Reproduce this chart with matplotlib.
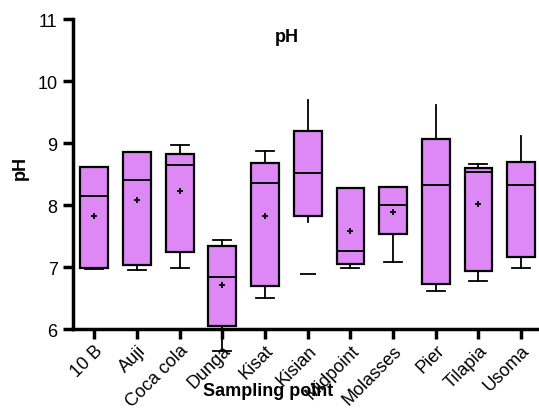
import matplotlib.pyplot as plt
import numpy as np

plt.rcParams['font.family'] = ['Liberation Sans', 'DejaVu Sans']

# sampling points and box statistics
sites = ['10 B', 'Auji', 'Coca cola', 'Dunga', 'Kisat', 'Kisian',
         'Midpoint', 'Molasses', 'Pier', 'Tilapia', 'Usoma']
whis_lo = [6.97, 6.95, 6.99, 5.65, 6.50, 7.72, 6.98, 7.08, 6.61, 6.77, 6.99]
q1 = [6.98, 7.03, 7.24, 6.05, 6.70, 7.82, 7.05, 7.53, 6.73, 6.94, 7.16]
med = [8.15, 8.40, 8.65, 6.84, 8.35, 8.52, 7.26, 8.00, 8.32, 8.53, 8.32]
q3 = [8.62, 8.85, 8.82, 7.34, 8.68, 9.19, 8.27, 8.29, 9.06, 8.60, 8.69]
whis_hi = [8.62, 8.85, 8.97, 7.44, 8.87, 9.69, 8.27, 8.29, 9.61, 8.66, 9.11]
means = [7.82, 8.08, 8.22, 6.71, 7.82, np.nan, 7.58, 7.89, np.nan, 8.02, np.nan]
outliers = {'Kisian': [6.89]}

fill = '#DE88F6'

fig = plt.figure(figsize=(5.39, 4.10), dpi=100)
ax = fig.add_axes([73/539, 1-330/410, 466/539, 310/410])

stats = []
for i, s in enumerate(sites):
    stats.append(dict(label=s, whislo=whis_lo[i], q1=q1[i], med=med[i],
                      q3=q3[i], whishi=whis_hi[i], fliers=[]))

pos = np.arange(1, len(sites) + 1)
bp = ax.bxp(stats, positions=pos, widths=0.65, patch_artist=True,
            showfliers=False, capwidths=0.42,
            boxprops=dict(facecolor=fill, edgecolor='black', linewidth=1.6),
            medianprops=dict(color='black', linewidth=1.4),
            whiskerprops=dict(color='black', linewidth=1.3),
            capprops=dict(color='black', linewidth=1.3))

# upper caps missing for a few sites
for i, s in enumerate(sites):
    if s in ('Kisian', 'Pier', 'Usoma', '10 B', 'Auji', 'Midpoint', 'Molasses'):
        bp['caps'][2*i+1].set_visible(False)
    if s == 'Kisian':
        bp['caps'][2*i].set_visible(False)
for art in bp['whiskers'] + bp['caps'] + bp['boxes'] + bp['medians']:
    art.set_clip_on(False)

ax.plot(pos, means, ls='none', marker='+', ms=5, mew=1.3, color='black')
for s, vals in outliers.items():
    k = sites.index(s) + 1
    ax.plot([k]*len(vals), vals, ls='none', marker='_', ms=11, mew=1.3,
            color='black')

ax.set_xlim(0.5, 11.42)
ax.set_ylim(6, 11)
ax.set_yticks([6, 7, 8, 9, 10, 11])
ax.set_xticks(pos)
ax.set_xticklabels(sites, rotation=45, ha='right', va='top',
                   rotation_mode='anchor')

for sp in ('top', 'right'):
    ax.spines[sp].set_visible(False)
for sp in ('left', 'bottom'):
    ax.spines[sp].set_linewidth(2.5)
ax.tick_params(axis='both', width=2.5, length=7, labelsize=13)
ax.tick_params(axis='x', pad=2)
ax.tick_params(axis='y', pad=4)

fig.text(287/539, 1-37/410, 'pH', fontsize=13, fontweight='bold',
         ha='center', va='center')
fig.text(20/539, 1-168/410, 'pH', fontsize=13, fontweight='bold',
         ha='center', va='center', rotation=90)
fig.text(268/539, 1-392/410, 'Sampling point', fontsize=13,
         fontweight='bold', ha='center', va='center')

fig.savefig('out.png', dpi=100)
